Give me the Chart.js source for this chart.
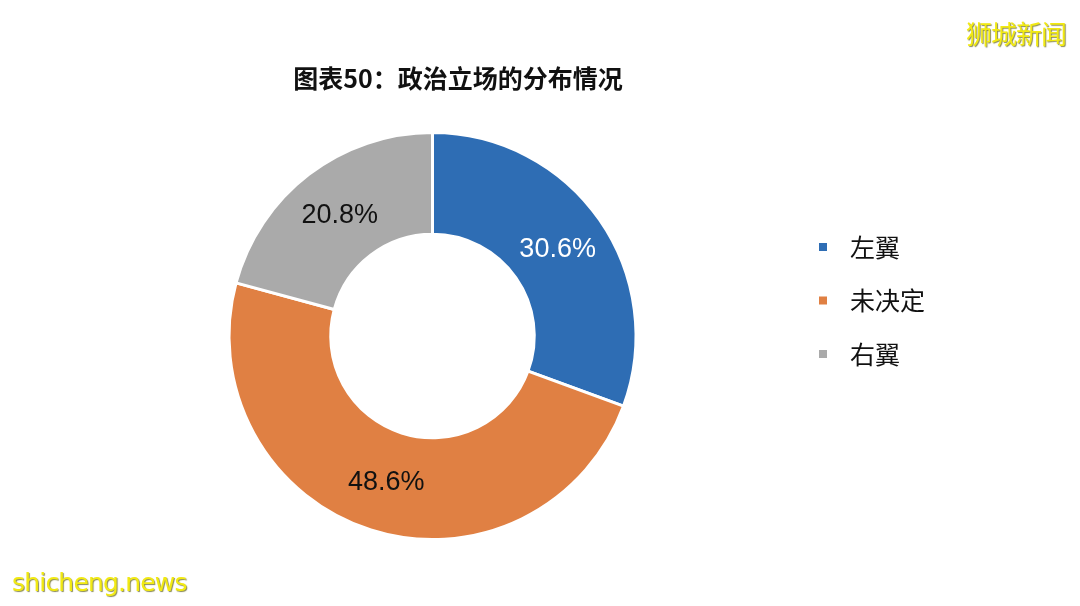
<!DOCTYPE html>
<html>
<head>
<meta charset="utf-8">
<script src="https://cdn.jsdelivr.net/npm/chart.js@4.4.1/dist/chart.umd.min.js"></script>
<style>
  html, body { margin: 0; padding: 0; background: #fff; }
  #wrap { position: relative; width: 1080px; height: 606px; }
  #chart { position: absolute; left: 0; top: 0; }
  .mark { position: absolute; color: #f2ea12; text-shadow: 1px 1px 1px #8a8a55; }
  #markTop { right: 14px; top: 14px; font: 26px "Noto Sans CJK SC", sans-serif; letter-spacing: -1px; }
  #markBottom { left: 12px; top: 568px; font: 25px "DejaVu Sans", sans-serif; letter-spacing: -0.8px; }
</style>
</head>
<body>
<div id="wrap">
  <canvas id="chart" width="1080" height="606"></canvas>
  <div id="markTop" class="mark">狮城新闻</div>
  <div id="markBottom" class="mark">shicheng.news</div>
</div>
<script>
// Chart data
const titleText = '图表50：政治立场的分布情况';
const categories = ['左翼', '未决定', '右翼'];
const shares = [30.6, 48.6, 20.8];
const sliceColors = ['#2e6db4', '#e08043', '#aaaaaa'];
const labelColors = ['#ffffff', '#111111', '#111111'];

const cjkFont = '"Noto Sans CJK SC", sans-serif';

// value labels in the middle of each ring slice
const sliceLabels = {
    id: 'sliceLabels',
    afterDatasetsDraw(chart) {
        const ctx = chart.ctx;
        const meta = chart.getDatasetMeta(0);
        ctx.save();
        ctx.font = '27px "Liberation Sans", Arial, sans-serif';
        ctx.textAlign = 'center';
        ctx.textBaseline = 'middle';
        meta.data.forEach((arc, i) => {
            const p = arc.tooltipPosition();
            ctx.fillStyle = labelColors[i];
            ctx.fillText(shares[i].toFixed(1) + '%', p.x, p.y + 1);
        });
        ctx.restore();
    }
};

// legend on the right, square markers
const sideLegend = {
    id: 'sideLegend',
    afterDraw(chart) {
        const ctx = chart.ctx;
        ctx.save();
        ctx.font = '25px ' + cjkFont;
        ctx.textBaseline = 'middle';
        categories.forEach((name, i) => {
            const y = 247 + i * 53.5;
            ctx.fillStyle = sliceColors[i];
            ctx.fillRect(819, y - 4, 8, 8);
            ctx.fillStyle = '#111111';
            ctx.fillText(name, 850, y);
        });
        ctx.restore();
    }
};

// title
const topTitle = {
    id: 'topTitle',
    afterDraw(chart) {
        const ctx = chart.ctx;
        ctx.save();
        ctx.font = 'bold 25px ' + cjkFont;
        ctx.textAlign = 'center';
        ctx.textBaseline = 'middle';
        ctx.fillStyle = '#111111';
        ctx.fillText(titleText, 458, 78);
        ctx.restore();
    }
};

new Chart(document.getElementById('chart'), {
    type: 'doughnut',
    data: {
        labels: categories,
        datasets: [{
            data: shares,
            backgroundColor: sliceColors,
            borderColor: '#ffffff',
            borderWidth: 3
        }]
    },
    options: {
        responsive: false,
        animation: false,
        cutout: '50%',
        layout: {
            padding: { top: 131, bottom: 65, left: 227, right: 442 }
        },
        plugins: {
            legend: { display: false },
            tooltip: { enabled: false },
            title: { display: false }
        }
    },
    plugins: [sliceLabels, sideLegend, topTitle]
});
</script>
</body>
</html>
